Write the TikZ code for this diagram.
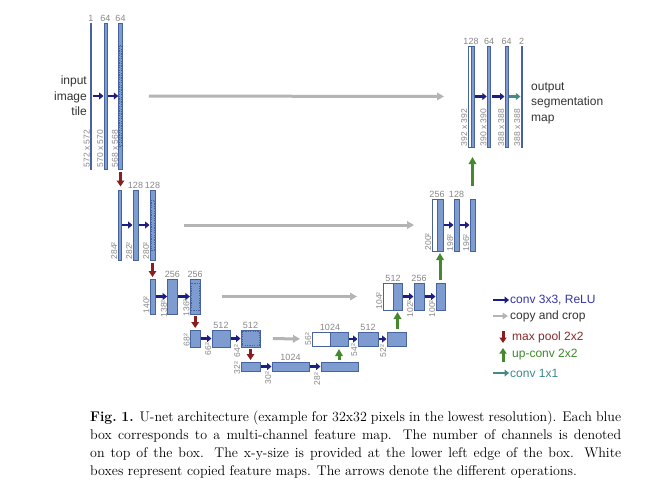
\documentclass[tikz,border=0pt]{standalone}
\usepackage{fontspec}
\newfontfamily\arialf{Liberation Sans}
\usetikzlibrary{arrows.meta,calc}
\definecolor{boxfill}{HTML}{7E9CCF}
\definecolor{boxdraw}{HTML}{46639F}
\definecolor{convcol}{HTML}{1C1F82}
\definecolor{copycol}{HTML}{B4B4B4}
\definecolor{poolcol}{HTML}{8A1E1E}
\definecolor{upcol}{HTML}{46882D}
\definecolor{tealcol}{HTML}{458A86}
\definecolor{labgray}{HTML}{888888}
\definecolor{convtxt}{HTML}{3535A8}
\definecolor{pooltxt}{HTML}{8B2A2A}
\definecolor{uptxt}{HTML}{3C8A28}
\definecolor{tealtxt}{HTML}{3F8A8A}
\definecolor{copytxt}{HTML}{333333}
\begin{document}
\begin{tikzpicture}[x=1pt,y=-1pt,
  box/.style={draw=boxdraw, fill=boxfill, line width=0.6pt, inner sep=0pt, outer sep=0pt},
  wbox/.style={box, fill=white},
  cropd/.style={draw=boxdraw, line width=0.5pt, dash pattern=on 1.2pt off 1.2pt},
  ch/.style={font=\arialf\fontsize{9}{10}\selectfont, text=labgray, anchor=base, inner sep=0pt, yshift=1.8pt},
  sz/.style={font=\arialf\fontsize{8.5}{9}\selectfont, text=labgray, rotate=90, anchor=south west, inner sep=0.6pt},
  conv/.style={draw=convcol, line width=2.4pt, -{Triangle[length=4.5pt,width=7pt]}, shorten <=1pt, shorten >=0.5pt},
  copyarr/.style={draw=copycol, line width=3pt, -{Triangle[length=7pt,width=7.5pt]}},
  pool/.style={draw=poolcol, line width=3pt, -{Triangle[length=6pt,width=7.5pt]}},
  upc/.style={draw=upcol, line width=3pt, -{Triangle[length=7pt,width=7.5pt]}},
  tealarr/.style={draw=tealcol, line width=2.4pt, -{Triangle[length=4.5pt,width=7pt]}, shorten <=1pt, shorten >=0.5pt},
  bigtxt/.style={font=\arialf\fontsize{12}{15.5}\selectfont, text=copytxt, inner sep=0pt},
  legtxt/.style={font=\arialf\fontsize{12}{14}\selectfont, anchor=west, inner sep=0pt}
]
\useasboundingbox (0,0) rectangle (666,488);
\fill[white] (0,0) rectangle (666,488);

% ---------------- level 1 left
\node[box, minimum width=1.2pt, minimum height=146pt] (a1) at (91,96) {};
\node[box, minimum width=3pt, minimum height=146pt] (a2) at (105.5,96) {};
\node[box, minimum width=3.5pt, minimum height=146pt] (a3) at (120.5,96) {};
\draw[cropd] ([xshift=0.9pt,yshift=-22.6pt]a3.north west) rectangle ([xshift=-0.9pt,yshift=22.6pt]a3.south east);
\node[ch] at (a1.north) {1};
\node[ch] at (a2.north) {64};
\node[ch] at (a3.north) {64};
\node[sz] at ([yshift=1pt]a1.south west) {572 x 572};
\node[sz] at ([yshift=1pt]a2.south west) {570 x 570};
\node[sz] at ([yshift=1pt]a3.south west) {568 x 568};

% ---------------- level 2 left
\node[box, minimum width=3pt, minimum height=70pt] (b1) at (119.5,225) {};
\node[box, minimum width=5pt, minimum height=70pt] (b2) at (135.5,225) {};
\node[box, minimum width=5pt, minimum height=70pt] (b3) at (152.5,225) {};
\draw[cropd] ([xshift=1pt,yshift=-10pt]b3.north west) rectangle ([xshift=-1pt,yshift=10pt]b3.south east);
\node[ch] at (b2.north) {128};
\node[ch] at (b3.north) {128};
\node[sz] at (b1.south west) {284²};
\node[sz] at (b2.south west) {282²};
\node[sz] at (b3.south west) {280²};

% ---------------- level 3 left
\node[box, minimum width=5pt, minimum height=35pt] (c1) at (152.8,296.5) {};
\node[box, minimum width=9.3pt, minimum height=35pt] (c2) at (172.3,296.5) {};
\node[box, minimum width=9.7pt, minimum height=35pt] (c3) at (195.2,296.5) {};
\draw[cropd] ([xshift=1pt,yshift=-4.1pt]c3.north west) rectangle ([xshift=-1pt,yshift=4.1pt]c3.south east);
\node[ch] at (c2.north) {256};
\node[ch] at (c3.north) {256};
\node[sz] at (c1.south west) {140²};
\node[sz] at ([yshift=-4pt]c2.south west) {138²};
\node[sz] at ([yshift=-3pt]c3.south west) {136²};

% ---------------- level 4 left
\node[box, minimum width=9.5pt, minimum height=17pt] (d1) at (195.3,338.5) {};
\node[box, minimum width=18pt, minimum height=17pt] (d2) at (221,338.5) {};
\node[box, minimum width=19pt, minimum height=17pt] (d3) at (250.5,338.5) {};
\draw[cropd] ([xshift=1.2pt,yshift=-1.3pt]d3.north west) rectangle ([xshift=-1.2pt,yshift=1.3pt]d3.south east);
\node[ch] at (d2.north) {512};
\node[ch] at (d3.north) {512};
\node[sz] at (d1.south west) {68²};
\node[sz] at ([yshift=-9pt]d2.south west) {66²};
\node[sz] at ([yshift=-11pt]d3.south west) {64²};

% ---------------- level 5
\node[box, minimum width=19pt, minimum height=9pt] (e1) at (250.5,366.5) {};
\node[box, minimum width=37pt, minimum height=9pt] (e2) at (290.5,366.5) {};
\node[box, minimum width=37pt, minimum height=9pt] (e3) at (339.5,366.5) {};
\node[ch] at (e2.north) {1024};
\node[sz] at ([yshift=-4pt]e1.south west) {32²};
\node[sz] at ([yshift=-14pt]e2.south west) {30²};
\node[sz] at ([yshift=-15pt]e3.south west) {28²};

% ---------------- level 4 right
\node[wbox, minimum width=18pt, minimum height=14pt] (dw) at (321,339) {};
\node[box, minimum width=18pt, minimum height=14pt] (db) at (339,339) {};
\node[box, minimum width=20pt, minimum height=14pt] (d4) at (368,339) {};
\node[box, minimum width=19pt, minimum height=14pt] (d5) at (396.5,339) {};
\node[ch] at (dw.north east) {1024};
\node[ch] at (d4.north) {512};
\node[sz] at (dw.south west) {56²};
\node[sz] at ([yshift=-11pt]d4.south west) {54²};
\node[sz] at ([yshift=-12pt]d5.south west) {52²};

% ---------------- level 3 right
\node[wbox, minimum width=10pt, minimum height=27pt] (cw) at (388,296.5) {};
\node[box, minimum width=9pt, minimum height=27pt] (cb) at (397.5,296.5) {};
\node[box, minimum width=10pt, minimum height=27pt] (c4) at (419,296.5) {};
\node[box, minimum width=9pt, minimum height=27pt] (c5) at (440.5,296.5) {};
\node[ch] at (cw.north east) {512};
\node[ch] at (c4.north) {256};
\node[sz] at (cw.south west) {104²};
\node[sz] at ([yshift=-8pt]c4.south west) {102²};
\node[sz] at ([yshift=-8pt]c5.south west) {100²};

% ---------------- level 2 right
\node[wbox, minimum width=5pt, minimum height=52pt] (bw) at (434.5,225) {};
\node[box, minimum width=6pt, minimum height=52pt] (bb) at (440,225) {};
\node[box, minimum width=5pt, minimum height=52pt] (b4) at (456.5,225) {};
\node[box, minimum width=5pt, minimum height=52pt] (b5) at (472.5,225) {};
\node[ch] at (bw.north east) {256};
\node[ch] at (b4.north) {128};
\node[sz] at (bw.south west) {200²};
\node[sz] at ([yshift=-1pt]b4.south west) {198²};
\node[sz] at ([yshift=-1pt]b5.south west) {196²};

% ---------------- level 1 right
\node[wbox, minimum width=3pt, minimum height=101pt] (aw) at (469.5,96.5) {};
\node[box, minimum width=3pt, minimum height=101pt] (ab) at (472.5,96.5) {};
\node[box, minimum width=3.5pt, minimum height=101pt] (a4) at (489,96.5) {};
\node[box, minimum width=3pt, minimum height=101pt] (a5) at (506.5,96.5) {};
\node[box, minimum width=1.2pt, minimum height=101pt] (a6) at (521.5,96.5) {};
\node[ch] at (aw.north east) {128};
\node[ch] at (a4.north) {64};
\node[ch] at (a5.north) {64};
\node[ch] at (a6.north) {2};
\node[sz] at (aw.south west) {392 x 392};
\node[sz] at (a4.south west) {390 x 390};
\node[sz] at (a5.south west) {388 x 388};
\node[sz] at (a6.south west) {388 x 388};

% ---------------- texts
\node[bigtxt, align=right, anchor=east] (inp) at (87,96) {input\\image\\tile};
\node[bigtxt, align=left, anchor=west] (outp) at (531,103) {output\\segmentation\\map};

% ---------------- conv arrows
\draw[conv] (a1) -- (a2);
\draw[conv] (a2) -- (a3);
\draw[conv] (b1) -- (b2);
\draw[conv] (b2) -- (b3);
\draw[conv] (c1) -- (c2);
\draw[conv] (c2) -- (c3);
\draw[conv] (d1) -- (d2);
\draw[conv] (d2) -- (d3);
\draw[conv] (e1) -- (e2);
\draw[conv] (e2) -- (e3);
\draw[conv] (db) -- (d4);
\draw[conv] (d4) -- (d5);
\draw[conv] (cb) -- (c4);
\draw[conv] (c4) -- (c5);
\draw[conv] (bb) -- (b4);
\draw[conv] (b4) -- (b5);
\draw[conv] (ab) -- (a4);
\draw[conv] (a4) -- (a5);
\draw[tealarr] (a5) -- (a6);

% ---------------- copy arrows
\draw[copyarr, shorten <=26.5pt, shorten >=24pt] (a3) -- (aw);
\draw[copyarr, shorten <=29pt, shorten >=18pt] (b3) -- (bw);
\draw[copyarr, shorten <=22pt, shorten >=26pt] (c3) -- (cw);
\draw[copyarr, shorten <=13pt, shorten >=12pt] (d3) -- (dw);

% ---------------- max pool arrows
\draw[pool, shorten <=3pt, shorten >=3.5pt] (a3.south) -- (a3.south |- b1.north);
\draw[pool, shorten <=3pt, shorten >=2pt] (b3.south) -- (b3.south |- c1.north);
\draw[pool, shorten <=2pt, shorten >=2pt] (c3.south) -- (c3.south |- d1.north);
\draw[pool, shorten <=2pt, shorten >=2pt] (d3.south) -- (d3.south |- e1.north);

% ---------------- up-conv arrows
\draw[upc, shorten <=2pt, shorten >=3pt] (db.south |- e3.north) -- (db.south);
\draw[upc, shorten <=3pt, shorten >=2pt] (cb.south |- d5.north) -- (cb.south);
\draw[upc, shorten <=3pt, shorten >=2pt] (bb.south |- c5.north) -- (bb.south);
\draw[upc, shorten <=13pt, shorten >=10pt] (ab.south |- b5.north) -- (ab.south);

% ---------------- legend
\node[legtxt, text=convtxt] (lg1) at (510,300) {conv 3x3, ReLU};
\node[legtxt, text=copytxt] (lg2) at (510,316) {copy and crop};
\node[legtxt, text=pooltxt] (lg3) at (512,337) {max pool 2x2};
\node[legtxt, text=uptxt] (lg4) at (512,355) {up-conv 2x2};
\node[legtxt, text=tealtxt] (lg5) at (510,373) {conv 1x1};
\coordinate (lg1s) at (493,300);
\coordinate (lg2s) at (493,316);
\coordinate (lg3s) at (503,331);
\coordinate (lg3e) at (503,343);
\coordinate (lg4s) at (503,362);
\coordinate (lg4e) at (503,348);
\coordinate (lg5s) at (493,373);
\draw[conv, shorten <=0pt, shorten >=1pt] (lg1s) -- (lg1.west);
\draw[copyarr, line width=2.6pt, -{Triangle[length=5.5pt,width=6.5pt]}, shorten >=2pt] (lg2s) -- (lg2.west);
\draw[pool, -{Triangle[length=5.5pt,width=7pt]}] (lg3s) -- (lg3e);
\draw[upc, -{Triangle[length=5.5pt,width=7pt]}] (lg4s) -- (lg4e);
\draw[tealarr, shorten <=0pt, shorten >=1pt] (lg5s) -- (lg5.west);

% ---------------- caption
\node[anchor=north west, inner sep=0pt, text width=531pt, align=justify,
      font=\fontsize{14}{18}\selectfont] (cap) at (90,411)
{\textbf{Fig.\ 1.} U-net architecture (example for 32x32 pixels in the lowest resolution). Each blue\linebreak box corresponds to a multi-channel feature map. The number of channels is denoted\linebreak on top of the box. The x-y-size is provided at the lower left edge of the box. White\linebreak boxes represent copied feature maps. The arrows denote the different operations.};
\end{tikzpicture}
\end{document}
